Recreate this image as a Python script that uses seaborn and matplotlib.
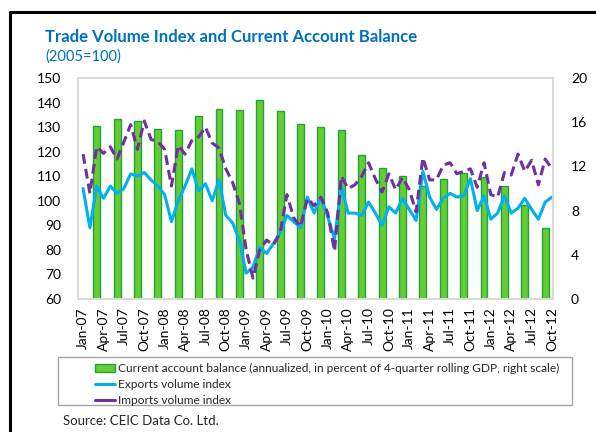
import numpy as np
import pandas as pd
import matplotlib
matplotlib.use("Agg")
import matplotlib.pyplot as plt
from matplotlib.patches import Patch, Rectangle
from matplotlib.lines import Line2D
import seaborn as sns

# monthly axis Jan-07 .. Oct-12
month_labels = pd.date_range("2007-01-01", "2012-10-01", freq="MS").strftime("%b-%y").tolist()
months = np.arange(len(month_labels))

exports = [105, 89, 106, 101, 106, 103, 105, 111, 110, 111.5, 108.5, 106,
           102.5, 91.5, 100, 106, 113, 104, 107, 100, 108.5, 94, 91, 84,
           70.5, 73, 81, 78.5, 82.5, 87, 94, 91.5, 89, 101.5, 95, 101.5,
           93.5, 84.5, 106, 95, 95, 94, 99.5, 95, 90, 97.5, 95, 101,
           96.5, 92, 112, 101.5, 96.5, 101, 103, 101.5, 102, 109, 96, 102,
           92.5, 95, 102, 95, 97, 101, 96.5, 92.5, 99.5, 101.5]

imports = [119, 103, 122, 119.3, 122, 117, 124, 131, 121, 132.5, 125, 124,
           121, 106, 122.5, 119, 124.5, 126, 130, 123.5, 121.5, 113, 107.5, 99,
           80, 68.5, 80, 84, 82, 87, 102.5, 93, 89.5, 101, 98, 101.5,
           95, 79.5, 110, 105, 106.5, 110, 115.5, 109, 103.5, 111, 104.5, 109.5,
           104.5, 95.5, 117.5, 108.5, 108.5, 114.5, 115.5, 111, 112, 113, 105.5, 115.5,
           102.5, 101.5, 111.5, 110.5, 119, 112, 116.5, 106.5, 117, 113]

# quarterly current account balance (Mar-07 .. Sep-12), % of GDP, right scale
ca_months = np.arange(2, 70, 3)
ca_balance = [15.7, 16.3, 16.1, 15.4, 15.3, 16.6, 17.2, 17.1, 18.0, 17.0, 15.8, 15.6,
              15.3, 13.0, 11.9, 11.1, 10.2, 10.9, 11.4, 11.0, 10.2, 8.5, 6.45]

BLUE_TXT = "#0070C0"
GREEN = "#66CC33"
GREEN_EDGE = "#1FA33A"
EXP_COL = "#00B0F0"
IMP_COL = "#7030A0"

sns.set_style("white")
plt.rcParams["font.family"] = ["Lato", "DejaVu Sans"]

fig = plt.figure(figsize=(5.96, 4.32), dpi=100)
ax = fig.add_axes([78 / 596, 1 - 299 / 432, 475 / 596, 221 / 432])
ax2 = ax.twinx()

sns.barplot(x=ca_months, y=ca_balance, native_scale=True, width=0.34, ax=ax2,
            color=GREEN, saturation=1, edgecolor=GREEN_EDGE, linewidth=1.0)

sns.lineplot(x=months, y=exports, ax=ax, color=EXP_COL, linewidth=2.2)
sns.lineplot(x=months, y=imports, ax=ax, color=IMP_COL, linewidth=2.2,
             linestyle=(0, (3.2, 1.7)))

# put the lines above the bars
ax.set_zorder(ax2.get_zorder() + 1)
ax.patch.set_visible(False)

ax.set_xlim(-0.75, 69.15)
ax.set_ylim(60, 150)
ax.set_yticks(np.arange(60, 151, 10))
ax2.set_ylim(0, 20)
ax2.set_yticks(np.arange(0, 21, 4))
ax.set_xticks(months[::3])
ax.set_xticklabels(month_labels[::3], rotation=90)
ax.set_xlabel("")
ax.set_ylabel("")
ax2.set_ylabel("")

for a in (ax, ax2):
    a.tick_params(length=0, labelsize=10, colors="black")
    for s in a.spines.values():
        s.set_color("#D9D9D9")
        s.set_linewidth(1.2)
ax.tick_params(axis="y", pad=12)
ax2.tick_params(axis="y", pad=13)
ax.tick_params(axis="x", pad=6)

fig.text(45 / 596, 1 - 37 / 432, "Trade Volume Index and Current Account Balance",
         color=BLUE_TXT, fontsize=12.1, fontweight="bold", va="center")
fig.text(45 / 596, 1 - 57 / 432, "(2005=100)", color=BLUE_TXT, fontsize=10.5, va="center")

handles = [Patch(facecolor=GREEN, edgecolor=GREEN_EDGE, linewidth=1.0),
           Line2D([], [], color=EXP_COL, linewidth=2.2),
           Line2D([], [], color=IMP_COL, linewidth=2.2)]
labels = ["Current account balance (annualized, in percent of 4-quarter rolling GDP, right scale)",
          "Exports volume index", "Imports volume index"]
fig.legend(handles, labels, loc="upper left", bbox_to_anchor=(88 / 596, 1 - 356 / 432),
           frameon=False, fontsize=8.6, handlelength=1.7, handleheight=0.7,
           handletextpad=0.2, labelspacing=0.4, borderpad=0.1)
fig.add_artist(Rectangle((58 / 596, 1 - 405 / 432), 514 / 596, 48 / 432,
                         transform=fig.transFigure, fill=False, edgecolor="#A6A6A6", linewidth=1))

fig.text(63 / 596, 1 - 421 / 432, "Source: CEIC Data Co. Ltd.", fontsize=9.5, va="center")

# outer frame (top and left edges)
fig.add_artist(Line2D([10 / 596, 1], [1 - 12 / 432, 1 - 12 / 432], transform=fig.transFigure,
                      color="black", linewidth=2.2))
fig.add_artist(Line2D([10 / 596, 10 / 596], [0, 1 - 12 / 432], transform=fig.transFigure,
                      color="black", linewidth=2.2))

fig.savefig("out.png", dpi=100)
